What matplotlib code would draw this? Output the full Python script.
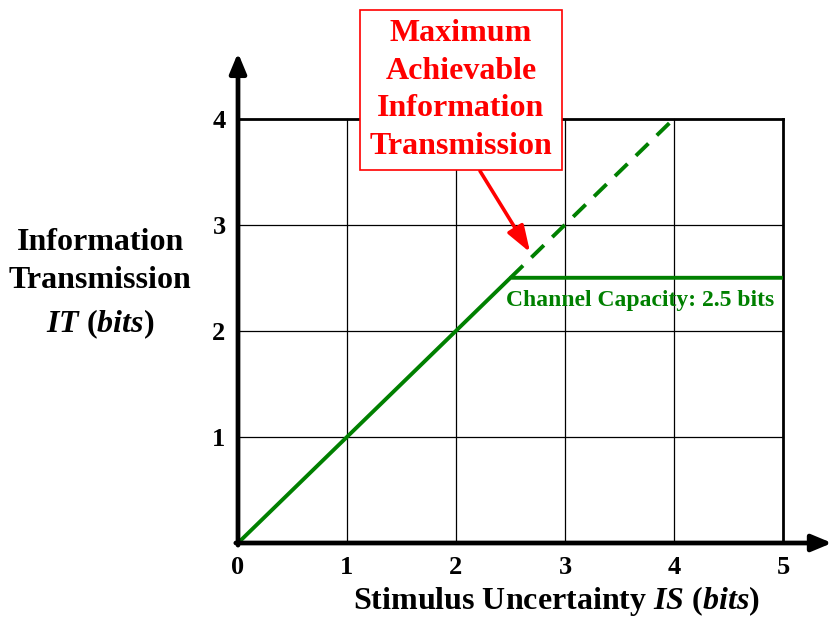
import matplotlib
matplotlib.use("Agg")
import matplotlib.pyplot as plt

plt.rcParams["font.family"] = ["Liberation Serif", "DejaVu Serif"]
plt.rcParams["font.weight"] = "bold"
plt.rcParams["mathtext.fontset"] = "custom"
plt.rcParams["mathtext.rm"] = "Liberation Serif:bold"
plt.rcParams["mathtext.bf"] = "Liberation Serif:bold"
plt.rcParams["mathtext.it"] = "Liberation Serif:italic:bold"
plt.rcParams["mathtext.bfit"] = "Liberation Serif:italic:bold"

# data
x_ticks = [0, 1, 2, 3, 4, 5]
y_ticks = [1, 2, 3, 4]
capacity = 2.5
actual_x = [0, 2.5, 5]
actual_y = [0, 2.5, 2.5]
ideal_x = [2.5, 4]
ideal_y = [2.5, 4]

green = "#008000"
red = "#ff0000"

fig = plt.figure(figsize=(8.32, 6.19), dpi=100)
ax = fig.add_axes([238 / 832, 76 / 619, 594 / 832, 488 / 619])
ax.set_xlim(0, 5.45)
ax.set_ylim(0, 4.6)
for s in ax.spines.values():
    s.set_visible(False)

# grid
for xv in x_ticks[1:]:
    ax.plot([xv, xv], [0, 4], color="black", lw=2.0 if xv == 5 else 0.9, zorder=1)
for yv in y_ticks:
    ax.plot([0, 5], [yv, yv], color="black", lw=2.0 if yv == 4 else 0.9, zorder=1)

# axes with arrows
arrow_style = dict(arrowstyle="-|>,head_length=1.2,head_width=0.5", color="black",
                   lw=3.4, shrinkA=0, shrinkB=0)
ax.annotate("", xy=(5.45, 0), xytext=(-0.02, 0), arrowprops=arrow_style,
            annotation_clip=False, zorder=4)
ax.annotate("", xy=(0, 4.62), xytext=(0, -0.02), arrowprops=arrow_style,
            annotation_clip=False, zorder=4)

# lines
ax.plot(actual_x, actual_y, color=green, lw=2.8, zorder=3, solid_capstyle="butt")
ax.plot(ideal_x, ideal_y, color=green, lw=2.8, ls=(0, (4.5, 3)), zorder=3)

ax.text(2.46, 2.29, "Channel Capacity: %.1f bits" % capacity, color=green,
        fontsize=17, fontweight="bold", ha="left", va="center")

# ticks
ax.set_xticks(x_ticks)
ax.set_yticks(y_ticks)
ax.set_xticklabels([str(v) for v in x_ticks])
ax.set_yticklabels([str(v) for v in y_ticks])
ax.tick_params(length=0, labelsize=19, pad=9)
for lab in ax.get_xticklabels() + ax.get_yticklabels():
    lab.set_fontweight("bold")

# axis labels
fig.text(556 / 832, 1 - 601 / 619, r"Stimulus Uncertainty $\mathbfit{IS}$ ($\mathbfit{bits}$)",
         fontsize=23, fontweight="bold", ha="center", va="center")
fig.text(100 / 832, 1 - 243 / 619, "Information", fontsize=23,
         fontweight="bold", ha="center", va="center")
fig.text(100 / 832, 1 - 281 / 619, "Transmission", fontsize=23,
         fontweight="bold", ha="center", va="center")
fig.text(100 / 832, 1 - 324 / 619, r"$\mathbfit{IT}$ ($\mathbfit{bits}$)", fontsize=23,
         fontweight="bold", ha="center", va="center")

# annotation box and arrow
fig.text(461 / 832, 1 - 90 / 619, "Maximum\nAchievable\nInformation\nTransmission",
         color=red, fontsize=23, fontweight="bold", ha="center", va="center",
         linespacing=1.38, zorder=5,
         bbox=dict(boxstyle="square,pad=0.3", fc="white", ec=red, lw=1.2))
ax.annotate("", xy=(2.68, 2.74), xytext=(480 / 832, 1 - 171 / 619),
            textcoords="figure fraction",
            arrowprops=dict(arrowstyle="-|>,head_length=1.6,head_width=0.55", color=red,
                            lw=2.6, shrinkA=0, shrinkB=0),
            annotation_clip=False, zorder=5)

fig.savefig("out.png", dpi=100)
